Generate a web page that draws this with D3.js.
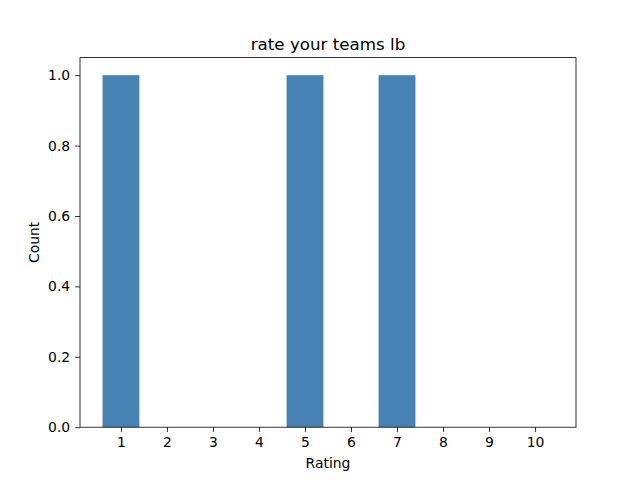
<!DOCTYPE html>
<html>
<head>
<meta charset="utf-8">
<script src="https://cdn.jsdelivr.net/npm/d3@7"></script>
<style>
  body { margin: 0; background: #fff; }
  text { font-family: "DejaVu Sans", sans-serif; }
</style>
</head>
<body>
<div id="chart"></div>
<script>
// data
const ratings = [1, 2, 3, 4, 5, 6, 7, 8, 9, 10];
const counts = [1, 0, 0, 0, 1, 0, 1, 0, 0, 0];
const yTicks = [0, 0.2, 0.4, 0.6, 0.8, 1.0];

const W = 640, H = 480;
const margin = { top: 57.6, right: 64, bottom: 52.8, left: 80 };
const iw = W - margin.left - margin.right;
const ih = H - margin.top - margin.bottom;

const svg = d3.select("#chart").append("svg")
  .attr("width", W).attr("height", H);

const g = svg.append("g")
  .attr("transform", `translate(${margin.left},${margin.top})`);

// bins 0.5..10.5, rwidth 0.8 -> bars span 0.6..10.4, 5% margins
const lo = 0.6, hi = 10.4, pad = (hi - lo) * 0.05;
const x = d3.scaleLinear().domain([lo - pad, hi + pad]).range([0, iw]);
const y = d3.scaleLinear().domain([0, 1.05]).range([ih, 0]);

g.selectAll("rect.bar")
  .data(ratings)
  .join("rect")
  .attr("class", "bar")
  .attr("x", d => x(d - 0.4))
  .attr("width", d => x(d + 0.4) - x(d - 0.4))
  .attr("y", (d, i) => y(counts[i]))
  .attr("height", (d, i) => y(0) - y(counts[i]))
  .attr("fill", "steelblue");

const xAxis = g.append("g")
  .attr("transform", `translate(0,${ih})`)
  .call(d3.axisBottom(x).tickValues(ratings).tickFormat(d3.format("d"))
    .tickSizeInner(4.9).tickSizeOuter(0).tickPadding(4.9));

const yAxis = g.append("g")
  .call(d3.axisLeft(y).tickValues(yTicks).tickFormat(d3.format(".1f"))
    .tickSizeInner(4.9).tickSizeOuter(0).tickPadding(4.9));

[xAxis, yAxis].forEach(a => {
  a.select(".domain").remove();
  a.selectAll("text").attr("font-size", "13.9px").attr("fill", "#000")
    .style("font-family", "'DejaVu Sans', sans-serif");
  a.selectAll("line").attr("stroke", "#000").attr("stroke-width", 0.8);
});

// frame
g.append("rect")
  .attr("width", iw).attr("height", ih)
  .attr("fill", "none").attr("stroke", "#000").attr("stroke-width", 0.8);

// labels
svg.append("text")
  .attr("x", margin.left + iw / 2).attr("y", margin.top - 8)
  .attr("text-anchor", "middle").attr("font-size", "16.7px")
  .text("rate your teams lb");

svg.append("text")
  .attr("x", margin.left + iw / 2).attr("y", H - 12)
  .attr("text-anchor", "middle").attr("font-size", "13.9px")
  .text("Rating");

svg.append("text")
  .attr("transform", `translate(39,${margin.top + ih / 2}) rotate(-90)`)
  .attr("text-anchor", "middle").attr("font-size", "13.9px")
  .text("Count");
</script>
</body>
</html>
